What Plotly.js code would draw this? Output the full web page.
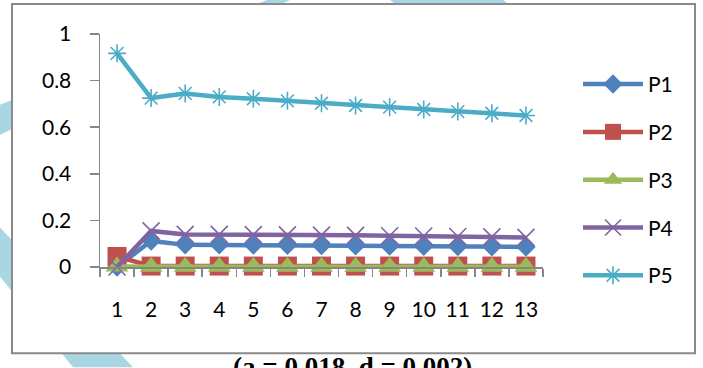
<!DOCTYPE html>
<html>
<head>
<meta charset="utf-8">
<script src="https://cdn.plot.ly/plotly-3.0.1.min.js"></script>
<style>
  html, body { margin: 0; padding: 0; background: #ffffff; }
  #chart { width: 703px; height: 368px; }
</style>
</head>
<body>
<div id="chart"></div>
<script>
// ---- data ----
var categories = ['1','2','3','4','5','6','7','8','9','10','11','12','13'];
var seriesNames = ['P1','P2','P3','P4','P5'];
var p1 = [0.000, 0.112, 0.095, 0.095, 0.094, 0.093, 0.092, 0.091, 0.090, 0.089, 0.088, 0.087, 0.086];
var p2 = [0.045, 0.004, 0.004, 0.004, 0.004, 0.004, 0.004, 0.004, 0.004, 0.004, 0.004, 0.004, 0.004];
var p3 = [0.002, 0.001, 0.001, 0.001, 0.001, 0.001, 0.001, 0.001, 0.001, 0.001, 0.001, 0.001, 0.001];
var p4 = [0.000, 0.155, 0.140, 0.140, 0.139, 0.138, 0.137, 0.136, 0.134, 0.133, 0.131, 0.129, 0.127];
var p5 = [0.917, 0.725, 0.745, 0.730, 0.722, 0.713, 0.703, 0.693, 0.686, 0.676, 0.667, 0.660, 0.650];
var yTickVals = [0, 0.2, 0.4, 0.6, 0.8, 1];
var yTickText = ['0', '0.2', '0.4', '0.6', '0.8', '1'];
var captionText = '(a = 0.018, d = 0.002)';

// ---- layout geometry (pixels) ----
var W = 703, H = 368;
var L = 100, R = 160, T = 34, B = 100.5;
var PW = W - L - R, PH = H - T - B;
function px(x) { return (x - L) / PW; }
function py(y) { return (H - B - y) / PH; }
function poly(pts) {
  return pts.map(function (p, i) { return (i ? 'L' : 'M') + px(p[0]) + ',' + py(p[1]); }).join(' ') + ' Z';
}

var colors = ['#4F81BD', '#C0504D', '#9BBB59', '#8064A2', '#4BACC6'];
var values = [p1, p2, p3, p4, p5];
var markers = [
  {symbol: 'diamond', size: 15},
  {symbol: 'square', size: 19},
  {symbol: 'triangle-up', size: 20},
  {symbol: 'x-thin-open', size: 17, line: {width: 1.6}},
  {symbol: 'asterisk-open', size: 15, line: {width: 1.6}}
];

var traces = values.map(function (v, i) {
  var m = Object.assign({color: colors[i]}, markers[i]);
  if (m.line) m.line.color = colors[i];
  return {
    type: 'scatter', mode: 'lines+markers',
    x: categories, y: v, name: seriesNames[i],
    legendgroup: 'g' + i,
    line: {color: colors[i], width: 4.5},
    marker: m,
    cliponaxis: false
  };
});

var stripe = '#A8D6E3';
var layout = {
  width: W, height: H,
  margin: {l: L, r: R, t: T, b: B, pad: 0},
  paper_bgcolor: '#ffffff',
  plot_bgcolor: 'rgba(0,0,0,0)',
  font: {family: 'Lato, "Liberation Sans", sans-serif', size: 21, color: '#000000'},
  showlegend: true,
  legend: {
    x: px(578), xanchor: 'left', y: py(64), yanchor: 'top',
    bgcolor: 'rgba(0,0,0,0)', borderwidth: 0,
    font: {size: 21, family: 'Lato, "Liberation Sans", sans-serif'},
    tracegroupgap: 17.5, itemwidth: 60
  },
  xaxis: {
    type: 'category', range: [-0.5, 12.5],
    showgrid: false, zeroline: false,
    showline: true, linecolor: '#868686', linewidth: 1.5,
    ticks: 'outside', tickson: 'boundaries', ticklen: 8, tickwidth: 1.5, tickcolor: '#868686',
    ticklabelstandoff: 23,
    tickfont: {size: 21}
  },
  yaxis: {
    range: [0, 1], tickvals: yTickVals, ticktext: yTickText,
    showgrid: false, zeroline: false,
    showline: true, linecolor: '#868686', linewidth: 1.5,
    ticks: 'outside', ticklen: 9, tickwidth: 1.5, tickcolor: '#868686',
    ticklabelstandoff: 14,
    tickfont: {size: 21}
  },
  shapes: [
    {type: 'path', xref: 'paper', yref: 'paper', layer: 'below', line: {width: 0}, fillcolor: stripe,
      path: poly([[0, 105], [267, 0], [290, 0], [0, 135]])},
    {type: 'path', xref: 'paper', yref: 'paper', layer: 'below', line: {width: 0}, fillcolor: stripe,
      path: poly([[0, 228], [133, 368], [73, 368], [0, 277]])},
    {type: 'path', xref: 'paper', yref: 'paper', layer: 'below', line: {width: 0}, fillcolor: stripe,
      path: poly([[390, 0], [503, 0], [520, 12], [405, 12]])},
    {type: 'rect', xref: 'paper', yref: 'paper', layer: 'below',
      x0: px(12), x1: px(695), y0: py(354), y1: py(4),
      line: {color: '#8A8A8A', width: 2}, fillcolor: '#ffffff'}
  ],
  annotations: [
    {text: '<b>' + captionText + '</b>', xref: 'paper', yref: 'paper',
      x: px(352), y: py(368), xanchor: 'center', yanchor: 'middle', showarrow: false,
      font: {family: '"Liberation Serif", "DejaVu Serif", serif', size: 27, color: '#000000'}}
  ]
};

Plotly.newPlot('chart', traces, layout, {displayModeBar: false, staticPlot: true});
</script>
</body>
</html>
